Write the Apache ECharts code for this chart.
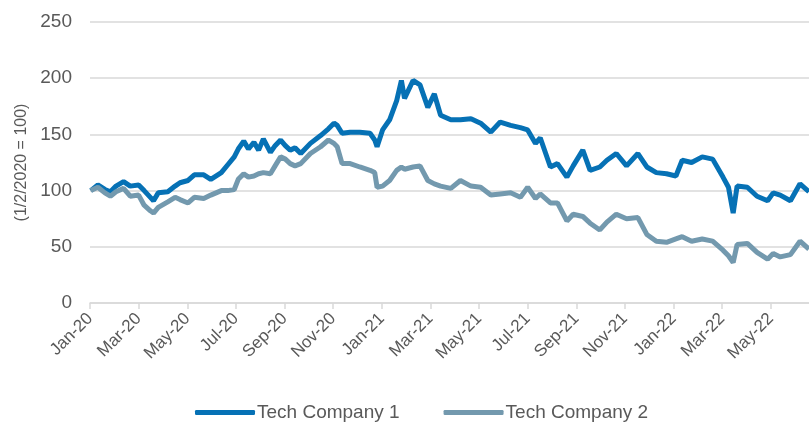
<!DOCTYPE html>
<html>
<head>
<meta charset="utf-8">
<script src="https://cdn.jsdelivr.net/npm/echarts@6/dist/echarts.min.js"></script>
<style>
html, body { margin: 0; padding: 0; background: #fff; }
#chart { width: 809px; height: 425px; }
</style>
</head>
<body>
<div id="chart"></div>
<script>
// values (index, 1/2/2020 = 100)
var dates = ['2020-01-02','2020-01-11','2020-01-20','2020-01-27','2020-02-03','2020-02-12','2020-02-20','2020-03-01',
	'2020-03-08','2020-03-16','2020-03-20','2020-03-26','2020-04-07','2020-04-16','2020-04-22','2020-05-02','2020-05-10',
	'2020-05-22','2020-05-31','2020-06-13','2020-06-21','2020-06-29','2020-07-04','2020-07-11','2020-07-17','2020-07-24',
	'2020-07-30','2020-08-05','2020-08-14','2020-08-20','2020-08-27','2020-09-02','2020-09-08','2020-09-14','2020-09-21',
	'2020-10-03','2020-10-16','2020-10-26','2020-11-02','2020-11-06','2020-11-12','2020-11-22','2020-12-04','2020-12-17',
	'2020-12-23','2020-12-26','2021-01-02','2021-01-11','2021-01-20','2021-01-26','2021-01-30','2021-02-09','2021-02-17',
	'2021-02-26','2021-03-06','2021-03-14','2021-03-27','2021-04-08','2021-04-21','2021-05-03','2021-05-16','2021-05-28',
	'2021-06-10','2021-06-22','2021-07-01','2021-07-11','2021-07-17','2021-07-30','2021-08-08','2021-08-20','2021-08-28',
	'2021-09-09','2021-09-18','2021-09-30','2021-10-09','2021-10-21','2021-11-03','2021-11-17','2021-11-28','2021-12-10',
	'2021-12-23','2022-01-04','2022-01-12','2022-01-24','2022-02-06','2022-02-18','2022-03-02','2022-03-09','2022-03-15',
	'2022-03-20','2022-04-02','2022-04-14','2022-04-27','2022-05-04','2022-05-13','2022-05-26','2022-06-07','2022-06-18'];
var company1 = [100,105,101,99,104,108,104,105,
	100,94,91,98,99,104,107,109,114,
	114,110,116,123,130,137,144,137,143,
	136,146,134,140,145,140,136,138,133,
	142,149,155,160,158,151,152,152,151,
	145,139,154,163,180,198,182,198,194,
	174,186,167,163,163,164,160,152,161,
	158,156,154,142,147,121,124,112,122,
	136,118,121,127,133,122,133,121,116,
	115,113,127,125,130,128,112,103,80,
	104,103,95,91,98,96,91,106,99];
var company2 = [100,103,98,95,99,102,95,96,
	87,82,80,85,90,94,92,89,94,
	93,96,100,100,101,110,115,112,113,
	115,116,115,122,130,128,124,122,124,
	133,139,145,142,139,124,124,121,118,
	116,103,104,109,118,121,119,121,122,
	109,106,104,102,109,104,103,96,97,
	98,94,103,93,97,89,89,73,79,
	77,71,65,72,79,75,76,61,55,
	54,57,59,55,57,55,47,42,36,
	52,53,45,39,44,41,43,55,48];
var months = ['Jan','Feb','Mar','Apr','May','Jun','Jul','Aug','Sep','Oct','Nov','Dec'];

// month index since Jan-2020, so axis ticks fall on month starts
function month_pos(s) {
	var p = s.split('-');
	var y = parseInt(p[0]), m = parseInt(p[1]), d = parseInt(p[2]);
	var dim = new Date(y, m, 0).getDate();
	return (y - 2020) * 12 + (m - 1) + (d - 1) / dim;
}

function make_series(vals) {
	var out = [];
	for (var i = 0; i < dates.length; i++) out.push([month_pos(dates[i]), vals[i]]);
	return out;
}

var myChart = echarts.init(document.getElementById('chart'));
var txt = '#595959';
var option = {
	animation: false,
	textStyle: {fontFamily: 'Liberation Sans, Arial, sans-serif'},
	grid: {left: 90, right: 0, top: 22, bottom: 122},
	xAxis: {
		type: 'value',
		min: 0,
		max: 29.57,
		interval: 2,
		splitLine: {show: false},
		axisLine: {lineStyle: {color: '#d9d9d9', width: 1.5}},
		axisTick: {show: true, length: 6, lineStyle: {color: '#d9d9d9', width: 1.5}},
		axisLabel: {
			rotate: 45,
			color: txt,
			fontSize: 17,
			margin: 13,
			showMaxLabel: false,
			formatter: function (v) {
				if (v % 2 !== 0) return '';
				return months[v % 12] + '-' + (20 + Math.floor(v / 12));
			}
		}
	},
	yAxis: {
		type: 'value',
		min: 0,
		max: 250,
		interval: 50,
		name: '(1/2/2020 = 100)',
		nameLocation: 'middle',
		nameGap: 58,
		nameTextStyle: {color: txt, fontSize: 16},
		axisLine: {show: false},
		axisTick: {show: false},
		axisLabel: {color: txt, fontSize: 19, margin: 18},
		splitLine: {lineStyle: {color: '#d9d9d9', width: 1.5}}
	},
	legend: {
		top: 398,
		left: 190,
		itemWidth: 60,
		itemHeight: 5,
		itemGap: 44,
		icon: 'roundRect',
		textStyle: {color: txt, fontSize: 19, padding: [0, 0, 0, -3]},
		data: ['Tech Company 1', 'Tech Company 2']
	},
	series: [
		{
			name: 'Tech Company 1',
			type: 'line',
			showSymbol: false,
			data: make_series(company1),
			itemStyle: {color: '#0671b5'},
			lineStyle: {color: '#0671b5', width: 5}
		},
		{
			name: 'Tech Company 2',
			type: 'line',
			showSymbol: false,
			data: make_series(company2),
			itemStyle: {color: '#7399ae'},
			lineStyle: {color: '#7399ae', width: 5}
		}
	]
};
myChart.setOption(option);
</script>
</body>
</html>
